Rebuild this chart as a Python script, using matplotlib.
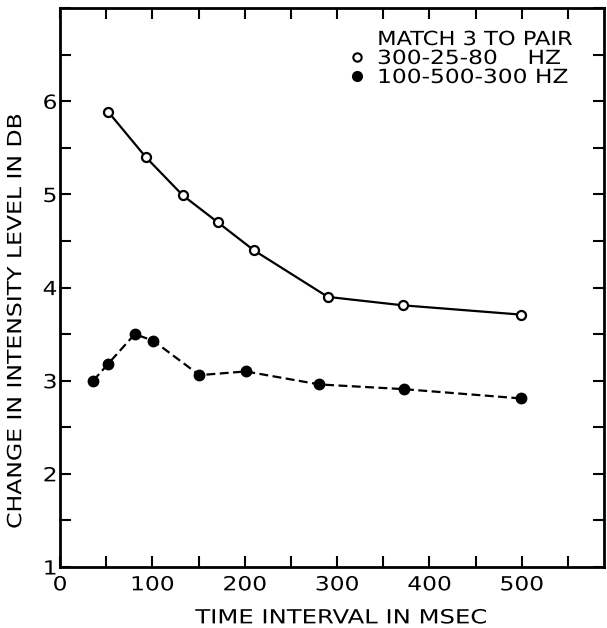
import matplotlib.pyplot as plt
from matplotlib.lines import Line2D
from matplotlib.ticker import MultipleLocator
from matplotlib.patheffects import AbstractPathEffect
from matplotlib.transforms import Affine2D

# open circles: 300-25-80 Hz
t_open = [52, 93, 133, 171, 210, 290, 371, 499]
db_open = [5.89, 5.40, 4.99, 4.70, 4.40, 3.90, 3.81, 3.71]

# filled circles: 100-500-300 Hz
t_fill = [36, 52, 81, 101, 151, 201, 281, 372, 499]
db_fill = [3.00, 3.18, 3.50, 3.43, 3.06, 3.10, 2.96, 2.91, 2.81]

xticks = [0, 100, 200, 300, 400, 500]
yticks = [1, 2, 3, 4, 5, 6]
labels = ['300-25-80    HZ', '100-500-300 HZ']


class Stretch(AbstractPathEffect):
    # widen the lettering horizontally (the original uses a wide stencil font)
    def __init__(self, sx, anchor='center'):
        super().__init__()
        self.sx = sx
        self.anchor = anchor

    def draw_path(self, renderer, gc, tpath, affine, rgbFace=None):
        ext = tpath.get_extents()
        if self.anchor == 'left':
            cx = 0
        elif self.anchor == 'right':
            cx = ext.x1
        else:
            cx = (ext.x0 + ext.x1) / 2
        t = Affine2D().translate(-cx, 0).scale(self.sx, 1).translate(cx, 0)
        renderer.draw_path(gc, tpath, t + affine, rgbFace)


fig = plt.figure(figsize=(6.07, 6.28), dpi=100)
ax = fig.add_axes([0.0988, 0.0971, 0.8962, 0.8899])

ax.plot(t_open, db_open, 'k-', linewidth=1.6, marker='o', markersize=6.5,
        markerfacecolor='white', markeredgecolor='k', markeredgewidth=1.6)
ax.plot(t_fill, db_fill, 'k', linestyle=(0, (4, 2)), linewidth=1.6,
        marker='o', markersize=7.5, markerfacecolor='k', markeredgecolor='k')

ax.set_xlim(0, 589)
ax.set_ylim(1, 7)
ax.xaxis.set_minor_locator(MultipleLocator(50))
ax.yaxis.set_minor_locator(MultipleLocator(0.5))
ax.set_xticks(xticks)
ax.set_yticks(yticks)

ax.tick_params(which='both', direction='in', top=True, right=True, width=1.5, length=8)
ax.tick_params(which='major', labelsize=14)
ax.tick_params(axis='x', pad=6)
ax.tick_params(axis='y', pad=2)
for s in ax.spines.values():
    s.set_linewidth(2)

for lab in ax.get_xticklabels():
    lab.set_path_effects([Stretch(1.2)])
for lab in ax.get_yticklabels():
    lab.set_path_effects([Stretch(1.2, 'right')])

xl = ax.set_xlabel('TIME INTERVAL IN MSEC', fontsize=14)
yl = ax.set_ylabel('CHANGE IN INTENSITY LEVEL IN DB', fontsize=14)
xl.set_path_effects([Stretch(1.25)])
yl.set_path_effects([Stretch(1.21)])
ax.xaxis.set_label_coords(0.517, -0.074)
ax.yaxis.set_label_coords(-0.064, 0.44)

handles = [
    Line2D([], [], linestyle='none', marker='o', markersize=6, markerfacecolor='white',
           markeredgecolor='k', markeredgewidth=1.5),
    Line2D([], [], linestyle='none', marker='o', markersize=7, markerfacecolor='k',
           markeredgecolor='k'),
]
leg = ax.legend(handles, labels, loc='upper left', bbox_to_anchor=(0.5246, 0.927),
                frameon=False, fontsize=14, handletextpad=0.43, handlelength=1.2,
                labelspacing=0.0, borderpad=0, borderaxespad=0)
for t in leg.get_texts():
    t.set_path_effects([Stretch(1.2, 'left')])
title = ax.text(0.583, 0.934, 'MATCH 3 TO PAIR', transform=ax.transAxes, fontsize=14,
                ha='left', va='baseline')
title.set_path_effects([Stretch(1.16, 'left')])

fig.savefig('out.png', dpi=100)
